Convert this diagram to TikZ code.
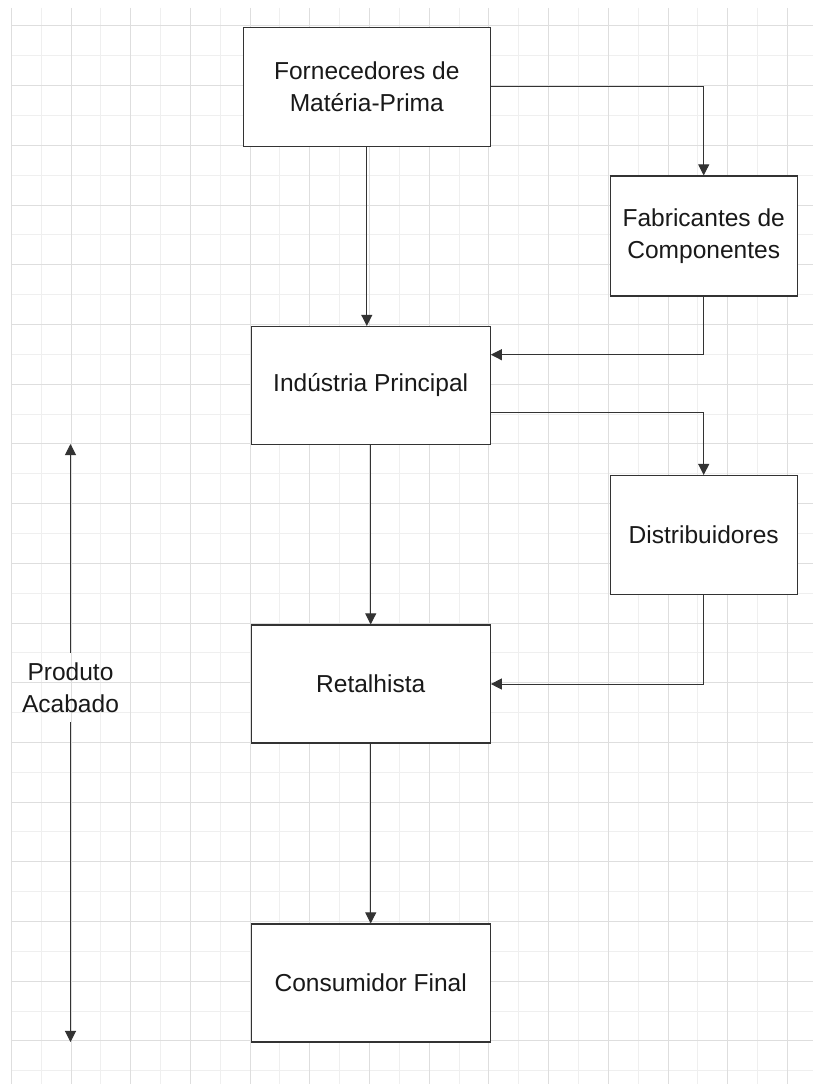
\documentclass[tikz,border=0pt]{standalone}
\usepackage{fontspec}
\setmainfont{Liberation Sans}
\usetikzlibrary{positioning,arrows.meta,calc}
\newcommand\boxfont{\fontsize{18.4pt}{23.8pt}\selectfont}
\definecolor{gridmajor}{HTML}{DEDEDE}
\definecolor{gridminor}{HTML}{EFEFEF}
\definecolor{linecol}{HTML}{333333}

\begin{document}
\begin{tikzpicture}[x=0.75pt,y=-0.75pt,>={Triangle[length=8.3pt,width=8.3pt]},
  box/.style={draw=linecol,line width=0.9pt,fill=white,minimum height=88.5pt,align=center,font=\boxfont,text=black!90},
  flow/.style={->,draw=linecol,line width=0.75pt}]
\useasboundingbox (0,0) rectangle (813,1084);
\fill[white] (0,0) rectangle (813,1084);
\foreach \i in {0,...,12} \draw[gridminor,line width=0.75pt] ({41.15+59.7*\i},8) -- ({41.15+59.7*\i},1084);
\foreach \i in {0,...,17} \draw[gridminor,line width=0.75pt] (11.3,{55.85+59.7*\i}) -- (813,{55.85+59.7*\i});
\foreach \i in {0,...,13} \draw[gridmajor,line width=0.75pt] ({11.3+59.7*\i},8) -- ({11.3+59.7*\i},1084);
\foreach \i in {0,...,17} \draw[gridmajor,line width=0.75pt] (11.3,{26+59.7*\i}) -- (813,{26+59.7*\i});

\node[box,minimum width=185.3pt,minimum height=89.3pt] (forn) at (366.8,86.8) {Fornecedores de\\Matéria-Prima};
\node[box,minimum width=140.3pt,minimum height=90pt] (fab) at (703.7,236) {Fabricantes de\\Componentes};
\node[box,minimum width=179.3pt] (ind) at (370.7,385.5) {Indústria Principal};
\node[box,minimum width=140.3pt,minimum height=89.5pt] (dist) at (703.7,535.2) {Distribuidores};
\node[box,minimum width=179.3pt] (ret) at (370.7,684) {Retalhista};
\node[box,minimum width=179.3pt] (cons) at (370.7,983) {Consumidor Final};

\draw[flow] (forn.south) -- (forn.south |- ind.north);
\draw[flow] (forn.east) -| (fab.north);
\draw[flow] (fab.south) |- ([yshift=23.1pt]ind.east);
\draw[flow] ([yshift=-20.6pt]ind.east) -| (dist.north);
\draw[flow] (dist.south) |- (ret.east);
\draw[flow] (ind.south) -- (ret.north);
\draw[flow] (ret.south) -- (cons.north);

\coordinate (pa top) at (70.5,444);
\coordinate (pa bottom) at (70.5,1042);
\node[font=\boxfont,align=center,inner sep=0pt,minimum height=51.8pt,text=black!90] (pa) at (70.5,687.5) {Produto\\Acabado};
\draw[flow] (pa.north) -- (pa top);
\draw[flow] (pa.south) -- (pa bottom);
\end{tikzpicture}
\end{document}
